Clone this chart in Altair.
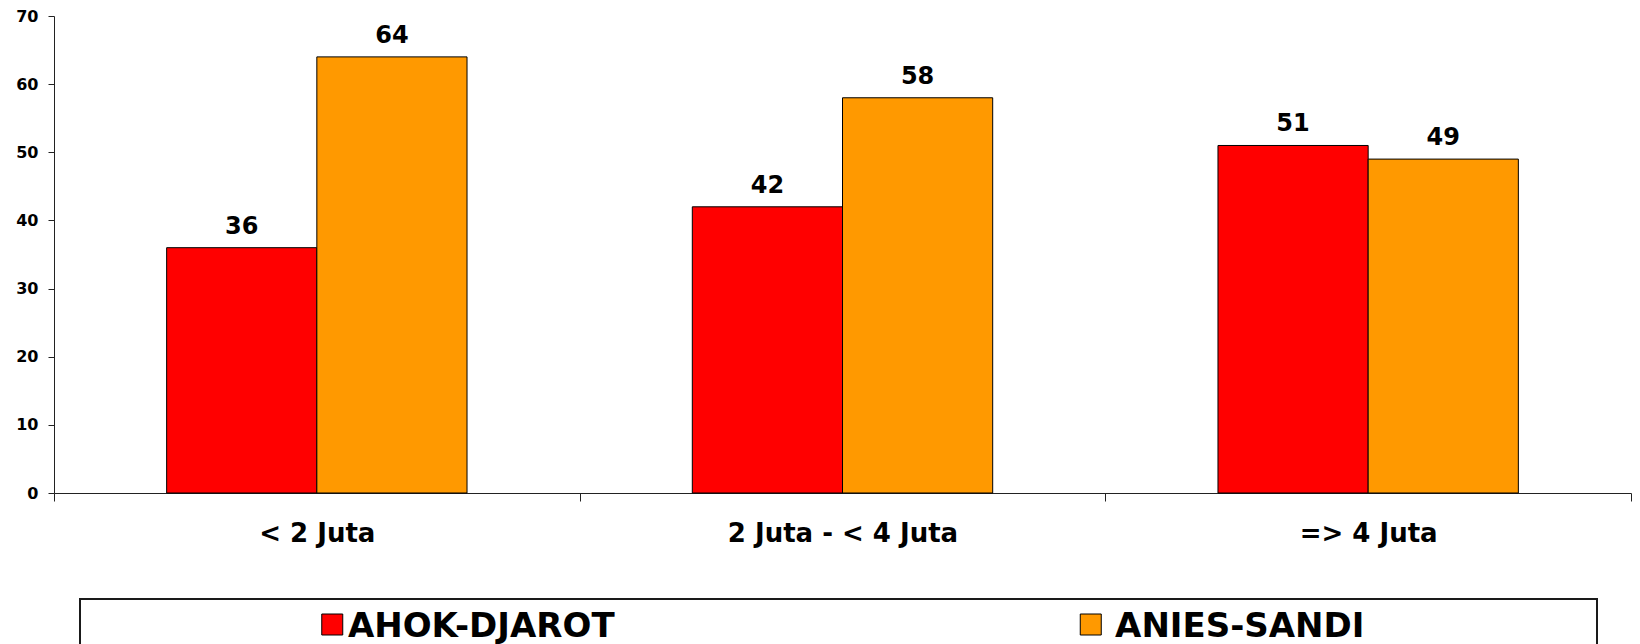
import altair as alt
import pandas as pd

categories = ["< 2 Juta", "2 Juta - < 4 Juta", "=> 4 Juta"]
series = ["AHOK-DJAROT", "ANIES-SANDI"]
ahok_values = [36, 42, 51]
anies_values = [64, 58, 49]
colors = ["#FF0000", "#FF9900"]
y_ticks = [0, 10, 20, 30, 40, 50, 60, 70]

rows = []
for i, c in enumerate(categories):
    rows.append({"kategori": c, "pasangan": series[0], "nilai": ahok_values[i]})
    rows.append({"kategori": c, "pasangan": series[1], "nilai": anies_values[i]})
df = pd.DataFrame(rows)

leg_df = pd.DataFrame({"pasangan": series, "baris": ["legenda"] * len(series)})

FONT = "DejaVu Sans"
AXIS_COLOR = "#222222"
color_scale = alt.Scale(domain=series, range=colors)

x = alt.X(
    "kategori:N",
    sort=categories,
    scale=alt.Scale(paddingInner=0, paddingOuter=0),
    axis=alt.Axis(
        title=None, labelAngle=0, labelFontSize=26, labelFontWeight="bold",
        labelFont=FONT, labelColor="black", labelPadding=19, labelLimit=600,
        tickBand="extent", tickSize=8, tickColor=AXIS_COLOR, domainColor=AXIS_COLOR,
    ),
)
xo = alt.XOffset("pasangan:N", sort=series, scale=alt.Scale(paddingInner=0, paddingOuter=0.75))
y = alt.Y(
    "nilai:Q",
    scale=alt.Scale(domain=[0, 70], nice=False),
    axis=alt.Axis(
        title=None, values=y_ticks, grid=False, labelFontSize=16, labelFontWeight="bold",
        labelFont=FONT, labelColor="black", labelPadding=10, tickSize=6,
        tickColor=AXIS_COLOR, domainColor=AXIS_COLOR,
    ),
)

bars = alt.Chart(df).mark_bar(stroke="black", strokeWidth=1, opacity=1).encode(
    x=x, xOffset=xo, y=y,
    color=alt.Color("pasangan:N", scale=color_scale, legend=None),
)
labels = alt.Chart(df).mark_text(
    baseline="alphabetic", dy=-14, fontSize=24, fontWeight="bold", font=FONT, color="black"
).encode(x=x, xOffset=xo, y=y, text="nilai:Q")

top = alt.layer(bars, labels).properties(
    width=1577, height=477, view=alt.ViewBackground(stroke="transparent")
)

lx = alt.X("pasangan:N", sort=series, scale=alt.Scale(type="point", padding=0.5), axis=None)
ly = alt.Y("baris:N", scale=alt.Scale(type="point", padding=0.5), axis=None)
squares = alt.Chart(leg_df).mark_square(
    size=441, opacity=1, filled=True, stroke="black", strokeWidth=1, xOffset=-127, yOffset=1
).encode(x=lx, y=ly, color=alt.Color("pasangan:N", scale=color_scale, legend=None))
texts = alt.Chart(leg_df).mark_text(
    align="center", baseline="middle", dx=22, dy=3, fontSize=34, fontWeight="bold", font=FONT, color="black"
).encode(x=lx, y=ly, text="pasangan:N")

legend_panel = alt.layer(squares, texts).properties(
    width=1517, height=49, view=alt.ViewBackground(stroke="#1a1a1a", strokeWidth=2)
)

# invisible spacer that indents the legend box from the plot's left edge
spacer = alt.Chart(leg_df).mark_point(opacity=0).properties(
    width=4, height=49, view=alt.ViewBackground(stroke="transparent")
)

legend_row = alt.hconcat(spacer, legend_panel, spacing=19)

chart = alt.vconcat(top, legend_row, spacing=51).properties(
    padding={"left": 7, "top": -1, "right": 0, "bottom": 0}
)

chart.save("out.html", embed_options={"renderer": "svg", "actions": False})
